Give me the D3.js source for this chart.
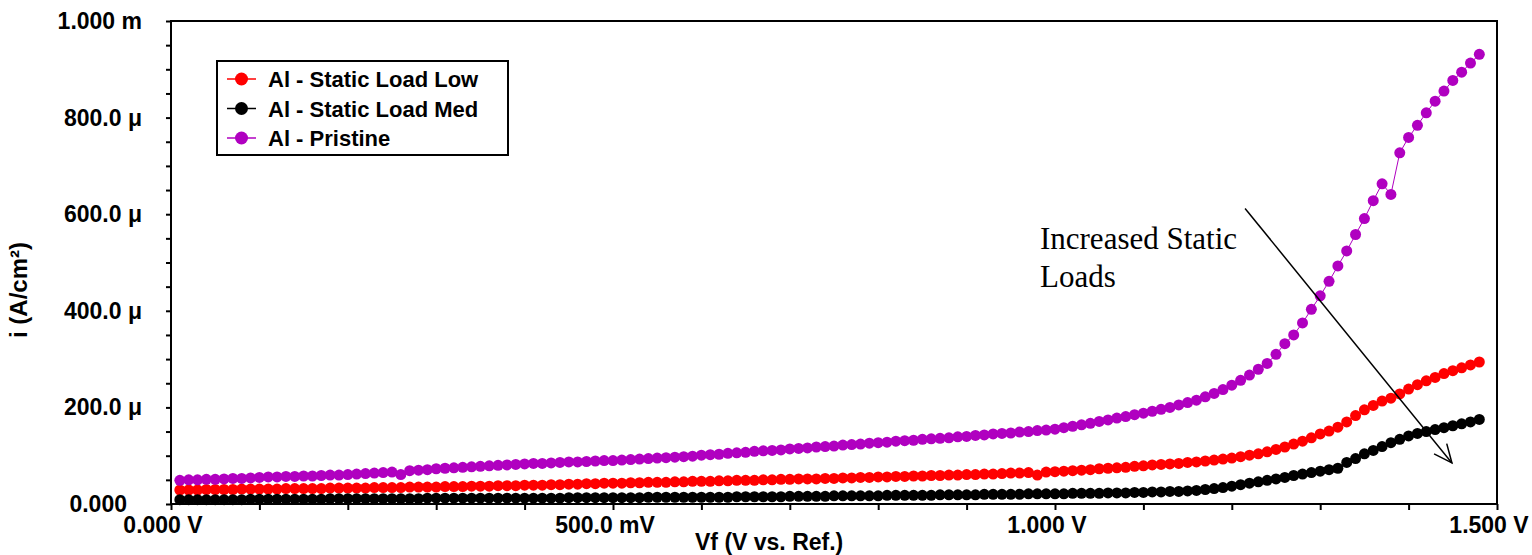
<html>

<head>
    <style>
        body { margin: 0; background: white; }
        text { font-family: "Liberation Sans", Arial, sans-serif; font-weight: bold; }
    </style>
</head>

<body>
    <svg id="container" height="555" width="1532"></svg>
</body>
<script src="https://cdn.jsdelivr.net/npm/d3@7"></script>
<script>
    // potential (V) for each sample
    let voltages = [
        0.01, 0.02, 0.03, 0.04, 0.05, 0.06, 0.07, 0.08, 0.09, 0.10,
        0.11, 0.12, 0.13, 0.14, 0.15, 0.16, 0.17, 0.18, 0.19, 0.20,
        0.21, 0.22, 0.23, 0.24, 0.25, 0.26, 0.27, 0.28, 0.29, 0.30,
        0.31, 0.32, 0.33, 0.34, 0.35, 0.36, 0.37, 0.38, 0.39, 0.40,
        0.41, 0.42, 0.43, 0.44, 0.45, 0.46, 0.47, 0.48, 0.49, 0.50,
        0.51, 0.52, 0.53, 0.54, 0.55, 0.56, 0.57, 0.58, 0.59, 0.60,
        0.61, 0.62, 0.63, 0.64, 0.65, 0.66, 0.67, 0.68, 0.69, 0.70,
        0.71, 0.72, 0.73, 0.74, 0.75, 0.76, 0.77, 0.78, 0.79, 0.80,
        0.81, 0.82, 0.83, 0.84, 0.85, 0.86, 0.87, 0.88, 0.89, 0.90,
        0.91, 0.92, 0.93, 0.94, 0.95, 0.96, 0.97, 0.98, 0.99, 1.00,
        1.01, 1.02, 1.03, 1.04, 1.05, 1.06, 1.07, 1.08, 1.09, 1.10,
        1.11, 1.12, 1.13, 1.14, 1.15, 1.16, 1.17, 1.18, 1.19, 1.20,
        1.21, 1.22, 1.23, 1.24, 1.25, 1.26, 1.27, 1.28, 1.29, 1.30,
        1.31, 1.32, 1.33, 1.34, 1.35, 1.36, 1.37, 1.38, 1.39, 1.40,
        1.41, 1.42, 1.43, 1.44, 1.45, 1.46, 1.47, 1.48
    ]

    // current density in uA/cm2
    let staticLow = [
        29, 29, 29, 30, 30, 30, 30, 31, 31, 31,
        31, 31, 32, 32, 32, 32, 32, 33, 33, 33,
        33, 33, 34, 34, 34, 34, 35, 35, 35, 35,
        36, 36, 36, 37, 37, 37, 38, 38, 38, 39,
        39, 39, 40, 40, 41, 41, 42, 42, 43, 43,
        43, 44, 44, 45, 45, 45, 46, 46, 47, 47,
        47, 48, 48, 49, 49, 49, 50, 50, 51, 51,
        52, 52, 52, 53, 53, 54, 54, 55, 55, 56,
        56, 57, 57, 58, 58, 59, 59, 60, 60, 61,
        61, 62, 62, 63, 64, 64, 65, 60, 66, 67,
        68, 69, 70, 71, 73, 74, 75, 76, 78, 79,
        81, 82, 83, 84, 86, 87, 89, 91, 93, 95,
        98, 101, 104, 108, 113, 118, 124, 130, 137, 145,
        151, 159, 170, 183, 195, 204, 213, 219, 228, 238,
        247, 255, 262, 270, 276, 282, 288, 294
    ]

    let staticMed = [
        9, 9, 9, 9, 9, 9, 9, 9, 10, 10,
        10, 10, 10, 10, 10, 10, 10, 11, 11, 11,
        11, 11, 11, 11, 11, 11, 11, 11, 12, 12,
        12, 12, 12, 12, 12, 12, 12, 12, 12, 12,
        12, 12, 12, 12, 13, 13, 13, 13, 13, 13,
        13, 13, 13, 14, 14, 14, 14, 14, 14, 14,
        14, 14, 14, 15, 15, 15, 15, 15, 15, 16,
        16, 16, 16, 16, 17, 17, 17, 17, 17, 17,
        18, 18, 18, 18, 18, 18, 19, 19, 19, 19,
        19, 20, 20, 20, 20, 20, 21, 21, 21, 21,
        21, 22, 22, 22, 22, 23, 23, 23, 24, 24,
        25, 25, 26, 26, 27, 28, 30, 32, 34, 37,
        40, 43, 46, 49, 52, 55, 59, 62, 65, 68,
        71, 74, 86, 94, 104, 111, 119, 127, 134, 141,
        146, 150, 154, 158, 162, 166, 170, 175
    ]

    let pristine = [
        49, 50, 50, 51, 51, 52, 53, 53, 54, 55,
        56, 56, 57, 57, 58, 58, 59, 60, 60, 61,
        62, 63, 64, 65, 66, 61, 69, 70, 71, 73,
        74, 75, 76, 77, 78, 79, 80, 81, 82, 83,
        84, 84, 85, 86, 87, 87, 88, 89, 90, 90,
        91, 92, 93, 94, 95, 96, 97, 98, 99, 101,
        102, 103, 105, 106, 107, 109, 110, 111, 112, 114,
        115, 116, 118, 119, 120, 122, 123, 124, 126, 127,
        128, 130, 131, 132, 134, 135, 136, 137, 139, 140,
        142, 143, 145, 146, 147, 149, 150, 152, 153, 155,
        158, 161, 164, 167, 171, 174, 178, 181, 185, 188,
        192, 196, 200, 205, 210, 215, 222, 229, 237, 246,
        256, 267, 279, 291, 310, 332, 350, 375, 403, 431,
        461, 493, 524, 558, 591, 628, 663, 641, 727, 759,
        784, 810, 834, 855, 877, 894, 913, 931
    ]

    let seriesNames = ["Al - Static Load Low", "Al - Static Load Med", "Al - Pristine"]
    let seriesColors = ["#ff0000", "#000000", "#b000c0"]
    let seriesValues = [staticLow, staticMed, pristine]

    let xTickValues = [0, 0.5, 1.0, 1.5]
    let xTickLabels = ["0.000 V", "500.0 mV", "1.000 V", "1.500 V"]
    let yTickValues = [0, 200, 400, 600, 800, 1000]
    let yTickLabels = ["0.000", "200.0 \u03bc", "400.0 \u03bc", "600.0 \u03bc", "800.0 \u03bc", "1.000 m"]

    // annotation arrow, in data units (V, uA/cm2)
    let arrowFrom = [1.215, 612]
    let arrowTo = [1.449, 85]
    let noteLines = ["Increased Static", "Loads"]
    let notePos = [[0.983, 528], [0.983, 449]]

    let svg = d3.select("#container")
    let plotLeft = 171, plotRight = 1497, plotTop = 21, plotBottom = 504

    let x = d3.scaleLinear().domain([0, 1.5]).range([plotLeft, plotRight])
    let y = d3.scaleLinear().domain([0, 1000]).range([plotBottom, plotTop])

    // minor + major ticks
    let xAxis = d3.axisBottom(x)
        .tickValues(d3.range(0, 1.5001, 0.1))
        .tickSize(6)
        .tickFormat("")
    let yAxis = d3.axisLeft(y)
        .tickValues(d3.range(0, 1000.1, 50))
        .tickSize(5)
        .tickFormat("")

    let gx = svg.append("g").attr("transform", `translate(0, ${plotBottom})`).call(xAxis)
    let gy = svg.append("g").attr("transform", `translate(${plotLeft}, 0)`).call(yAxis)
    gx.select(".domain").remove()
    gy.select(".domain").remove()
    svg.selectAll(".tick line").attr("stroke", "black").attr("stroke-width", 2)

    svg.append("rect")
        .attr("x", plotLeft)
        .attr("y", plotTop)
        .attr("width", plotRight - plotLeft)
        .attr("height", plotBottom - plotTop)
        .attr("fill", "none")
        .attr("stroke", "black")
        .attr("stroke-width", 2)

    svg.selectAll(".xlabel")
        .data(xTickValues)
        .enter().append("text")
        .attr("class", "xlabel")
        .attr("x", d => x(d) - 8)
        .attr("y", 533)
        .attr("text-anchor", "middle")
        .style("font-size", "23px")
        .text((d, i) => xTickLabels[i])

    svg.selectAll(".ylabel")
        .data(yTickValues)
        .enter().append("text")
        .attr("class", "ylabel")
        .attr("x", plotLeft - 29)
        .attr("dx", (d, i) => /[\u03bcm]$/.test(yTickLabels[i]) ? 0 : -15)
        .attr("y", d => y(d) + 8)
        .attr("text-anchor", "end")
        .style("font-size", "23px")
        .text((d, i) => yTickLabels[i])

    svg.append("text")
        .attr("x", 695)
        .attr("y", 550)
        .style("font-size", "23px")
        .text("Vf (V vs. Ref.)")

    svg.append("text")
        .attr("transform", "translate(27, 290) rotate(-90)")
        .attr("text-anchor", "middle")
        .style("font-size", "24px")
        .text("i (A/cm\u00b2)")

    // series
    let line = d3.line()
        .x(d => x(d[0]))
        .y(d => y(d[1]))

    seriesValues.forEach((vals, s) => {
        let pts = vals.map((v, i) => [voltages[i], v])
        let g = svg.append("g")
        g.append("path")
            .datum(pts)
            .attr("d", line)
            .attr("fill", "none")
            .attr("stroke", seriesColors[s])
            .attr("stroke-width", 1)
        g.selectAll("circle")
            .data(pts)
            .enter().append("circle")
            .attr("cx", d => x(d[0]))
            .attr("cy", d => y(d[1]))
            .attr("r", 5.5)
            .attr("fill", seriesColors[s])
    })

    // legend
    let legend = svg.append("g").attr("transform", "translate(217, 61)")
    legend.append("rect")
        .attr("width", 291)
        .attr("height", 94)
        .attr("fill", "white")
        .attr("stroke", "black")
        .attr("stroke-width", 2)
    let rows = legend.selectAll(".row")
        .data(seriesNames)
        .enter().append("g")
        .attr("class", "row")
        .attr("transform", (d, i) => `translate(0, ${18 + i * 29.5})`)
    rows.append("line")
        .attr("x1", 10).attr("x2", 39)
        .attr("stroke", (d, i) => seriesColors[i])
        .attr("stroke-width", 1.5)
    rows.append("circle")
        .attr("cx", 24.5)
        .attr("r", 6.5)
        .attr("fill", (d, i) => seriesColors[i])
    rows.append("text")
        .attr("x", 51)
        .attr("y", 8)
        .style("font-size", "22px")
        .text(d => d)

    // annotation
    let ax1 = x(arrowFrom[0]), ay1 = y(arrowFrom[1])
    let ax2 = x(arrowTo[0]), ay2 = y(arrowTo[1])
    let ang = Math.atan2(ay2 - ay1, ax2 - ax1)
    let head = 20, spread = 0.42
    svg.append("line")
        .attr("x1", ax1).attr("y1", ay1)
        .attr("x2", ax2).attr("y2", ay2)
        .attr("stroke", "black")
        .attr("stroke-width", 1.5)
    svg.append("path")
        .attr("d", `M${ax2 - head * Math.cos(ang - spread)},${ay2 - head * Math.sin(ang - spread)}` +
            `L${ax2},${ay2}` +
            `L${ax2 - head * Math.cos(ang + spread)},${ay2 - head * Math.sin(ang + spread)}`)
        .attr("fill", "none")
        .attr("stroke", "black")
        .attr("stroke-width", 1.5)

    svg.selectAll(".note")
        .data(noteLines)
        .enter().append("text")
        .attr("class", "note")
        .attr("x", (d, i) => x(notePos[i][0]))
        .attr("y", (d, i) => y(notePos[i][1]))
        .style("font-family", "'Liberation Serif', 'Times New Roman', serif")
        .style("font-weight", "normal")
        .style("font-size", "31px")
        .text(d => d)
</script>

</html>
